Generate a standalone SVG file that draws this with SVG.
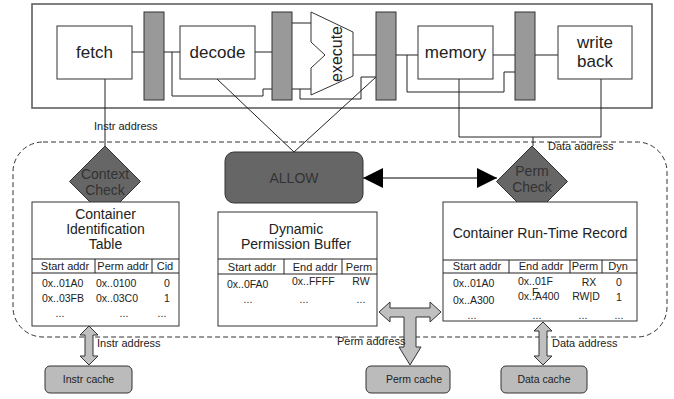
<svg xmlns="http://www.w3.org/2000/svg" width="674" height="399" viewBox="0 0 674 399">
<defs>
<style>
text{font-family:"Liberation Sans",Arial,sans-serif;fill:#222}
.box{fill:#fff;stroke:#333;stroke-width:1}
.reg{fill:#999;stroke:#333;stroke-width:1}
.wire{fill:none;stroke:#222;stroke-width:1}
.dark{fill:#666;stroke:#333;stroke-width:1}
.cache{fill:#bbb;stroke:#333;stroke-width:1}
.blk{fill:#c0c0c0;stroke:#333;stroke-width:1}
.stage{font-size:17px;text-anchor:middle}
.title{font-size:14px;text-anchor:middle}
.hdr{font-size:11px;text-anchor:middle}
.cell{font-size:10.5px}
.mid{text-anchor:middle}
.lbl{font-size:11px}
.dk{font-size:14px;text-anchor:middle;fill:#333}
.cl{font-size:10.5px;text-anchor:middle}
</style>
<marker id="tri" markerUnits="userSpaceOnUse" markerWidth="20" markerHeight="20" refX="20" refY="10" orient="auto-start-reverse" viewBox="0 0 20 20"><path d="M0,0 L20,10 L0,20 Z" fill="#000"/></marker>
</defs>
<rect width="674" height="399" fill="#fff"/>

<g id="pipeline">
<rect x="32" y="4" width="620" height="104" fill="#fff" stroke="#555" stroke-width="1.5"/>
</g>
<g id="container-area">
<rect x="13" y="142" width="654" height="195" rx="30" fill="none" stroke="#333" stroke-dasharray="5,3"/>
</g>

<g id="connectors">
<path class="wire" d="M132,52H144 M164,52H180 M172,52V96H263V89H272 M255,52H272"/>
<path class="wire" d="M292,23H311 M292,89H311 M300,89V99H361V77H376 M353,55H376"/>
<path class="wire" d="M396,55H418 M407,55V92H504V72H515 M493,55H515 M535,55H558"/>
<path class="wire" d="M459,79V137H601V79 M533,137V146"/>
<path class="wire" d="M105,79V146"/>
<path class="wire" d="M217,79L294,152 M376,77L294,152"/>
<line x1="363" y1="178" x2="497" y2="178" stroke="#000" stroke-width="1" marker-start="url(#tri)" marker-end="url(#tri)"/>
<polygon class="blk" points="89,326 98,335 93,335 93,356 98,356 89,365 80,356 85,356 85,335 80,335"/>
<polygon class="blk" points="543,322 552,331 547,331 547,356 552,356 543,365 534,356 539,356 539,331 534,331"/>
<polygon class="blk" points="379,312 390,302 390,308 430,308 430,302 441,312 430,322 430,317 416,317 416,347 421,347 410,365 399,347 404,347 404,317 390,317 390,322"/>
</g>

<g id="fetch">
<rect class="box" x="57" y="26" width="75" height="53"/>
<text class="stage" x="94.5" y="58">fetch</text>
</g>
<g id="reg1"><rect class="reg" x="144" y="12" width="20" height="88"/></g>
<g id="decode">
<rect class="box" x="180" y="26" width="75" height="53"/>
<text class="stage" x="217.5" y="58">decode</text>
</g>
<g id="reg2"><rect class="reg" x="272" y="12" width="20" height="88"/></g>
<g id="execute">
<polygon class="box" points="311,12 353,32 353,76 311,95 311,68 325,55 311,42"/>
<text transform="translate(342,54) rotate(-90)" font-size="16" text-anchor="middle">execute</text>
</g>
<g id="reg3"><rect class="reg" x="376" y="12" width="20" height="88"/></g>
<g id="memory">
<rect class="box" x="418" y="26" width="75" height="53"/>
<text class="stage" x="455.5" y="58">memory</text>
</g>
<g id="reg4"><rect class="reg" x="515" y="12" width="20" height="88"/></g>
<g id="writeback">
<rect class="box" x="558" y="26" width="74" height="53"/>
<text class="stage" x="595" y="48">write</text>
<text class="stage" x="595" y="67">back</text>
</g>

<g id="labels">
<text class="lbl" x="94" y="130">Instr address</text>
<text class="lbl" x="548" y="150">Data address</text>
<text class="lbl" x="97" y="347">Instr address</text>
<text class="lbl" x="337" y="345">Perm address</text>
<text class="lbl" x="552" y="347">Data address</text>
</g>

<g id="context-check">
<polygon class="dark" points="105,146 140.5,181.5 105,217 69.5,181.5"/>
<text class="dk" x="105" y="179">Context</text>
<text class="dk" x="105" y="195">Check</text>
</g>
<g id="perm-check">
<polygon class="dark" points="532,146 567.5,181.5 532,217 496.5,181.5"/>
<text class="dk" x="532" y="176">Perm</text>
<text class="dk" x="532" y="192">Check</text>
</g>
<g id="allow">
<rect class="dark" x="225" y="152" width="138" height="51" rx="9"/>
<text class="dk" x="294" y="183">ALLOW</text>
</g>

<g id="cit">
<rect class="box" x="32" y="202" width="147" height="124"/>
<text class="title" x="105.5" y="219">Container</text>
<text class="title" x="105.5" y="234">Identification</text>
<text class="title" x="105.5" y="249">Table</text>
<path class="wire" d="M32,259H179 M32,273H179 M95,259V273 M152,259V273"/>
<text class="hdr" x="65" y="270">Start addr</text>
<text class="hdr" x="123" y="270">Perm addr</text>
<text class="hdr" x="165" y="270">Cid</text>
<text class="cell" x="42" y="287">0x..01A0</text>
<text class="cell" x="96" y="287">0x..0100</text>
<text class="cell mid" x="167" y="287">0</text>
<text class="cell" x="42" y="302">0x..03FB</text>
<text class="cell" x="96" y="302">0x..03C0</text>
<text class="cell mid" x="167" y="302">1</text>
<text class="cell mid" x="60" y="317">...</text>
<text class="cell mid" x="124" y="317">...</text>
<text class="cell mid" x="162" y="317">...</text>
</g>

<g id="dpb">
<rect class="box" x="218" y="212" width="159" height="114"/>
<text class="title" x="296" y="234">Dynamic</text>
<text class="title" x="296" y="249">Permission Buffer</text>
<path class="wire" d="M218,259H377 M218,274H377 M284,259V274 M342,259V274"/>
<text class="hdr" x="252" y="271">Start addr</text>
<text class="hdr" x="315" y="271">End addr</text>
<text class="hdr" x="359" y="271">Perm</text>
<text class="cell" x="227" y="288">0x..0FA0</text>
<text class="cell" x="292" y="285">0x..FFFF</text>
<text class="cell mid" x="361" y="285">RW</text>
<text class="cell mid" x="248" y="303">...</text>
<text class="cell mid" x="304" y="303">...</text>
<text class="cell mid" x="361" y="303">...</text>
</g>

<g id="crr">
<rect class="box" x="443" y="202" width="194" height="119"/>
<text class="title" x="540" y="238">Container Run-Time Record</text>
<path class="wire" d="M443,260H637 M443,273H637 M509,260V273 M570,260V273 M602,260V273"/>
<text class="hdr" x="477" y="270">Start addr</text>
<text class="hdr" x="541" y="270">End addr</text>
<text class="hdr" x="585" y="270">Perm</text>
<text class="hdr" x="618" y="270">Dyn</text>
<text class="cell" x="453" y="287">0x..01A0</text>
<text class="cell" x="453" y="304">0x..A300</text>
<text class="cell" x="518" y="285">0x..01F</text>
<text class="cell" x="532" y="296">F</text>
<text class="cell" x="518" y="300">0x..A400</text>
<text class="cell mid" x="589" y="286">RX</text>
<text class="cell mid" x="586" y="300">RW|D</text>
<text class="cell mid" x="619" y="286">0</text>
<text class="cell mid" x="619" y="301">1</text>
<text class="cell mid" x="472" y="319">...</text>
<text class="cell mid" x="537" y="319">...</text>
<text class="cell mid" x="583" y="319">...</text>
<text class="cell mid" x="619" y="319">...</text>
</g>

<g id="instr-cache">
<rect class="cache" x="45" y="366" width="87" height="27" rx="5"/>
<text class="cl" x="88.5" y="383">Instr cache</text>
</g>
<g id="perm-cache">
<rect class="cache" x="366" y="366" width="84" height="27" rx="5"/>
<text class="cl" x="414" y="383">Perm cache</text>
</g>
<g id="data-cache">
<rect class="cache" x="501" y="366" width="86" height="27" rx="5"/>
<text class="cl" x="544" y="383">Data cache</text>
</g>
</svg>
